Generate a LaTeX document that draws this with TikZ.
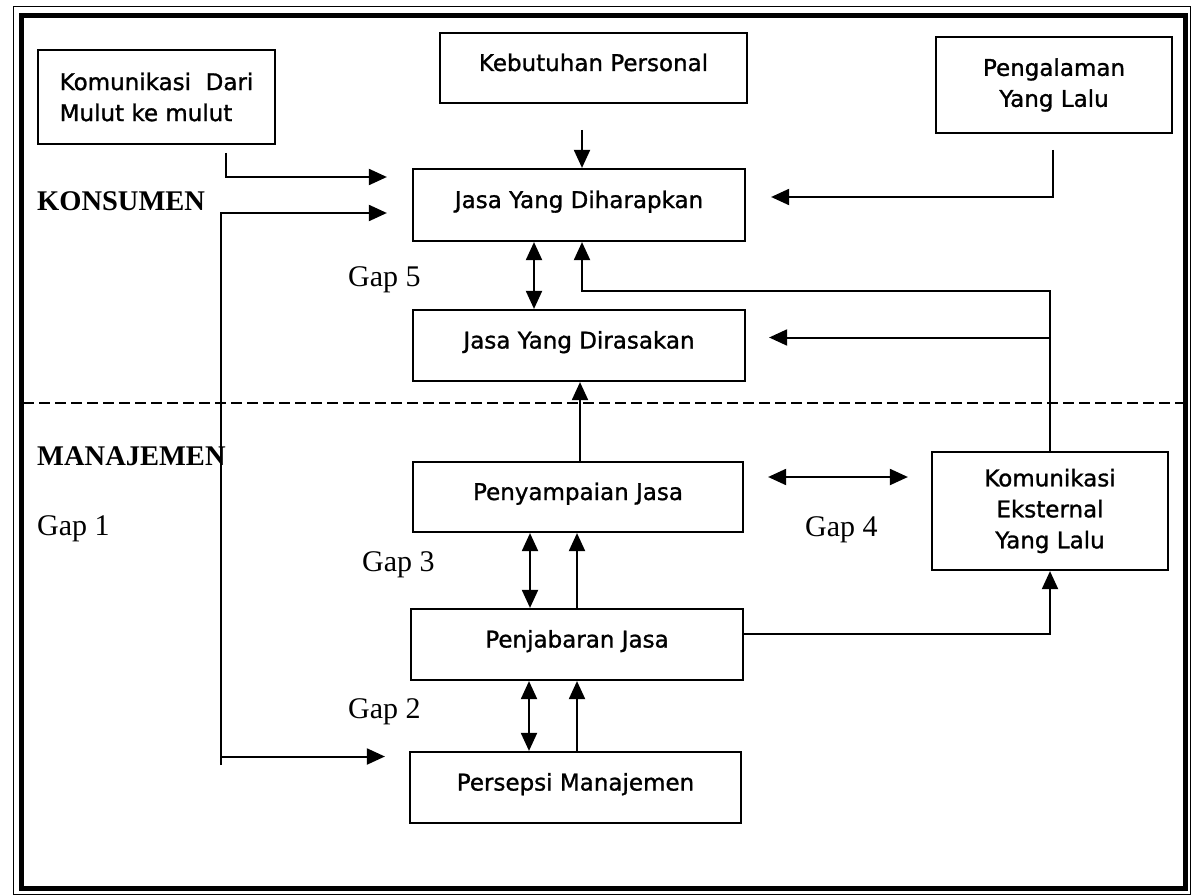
\documentclass[tikz,border=0pt]{standalone}
\usepackage{fontspec}
\setmainfont{Liberation Serif}
\newfontfamily\boxfont[FakeBold=1.2]{DejaVu Sans}
\usetikzlibrary{arrows.meta,calc}
\begin{document}
\begin{tikzpicture}[x=1pt,y=-1pt,
  box/.style={draw, line width=2.2pt, inner sep=0pt, font=\boxfont\fontsize{23}{31}\selectfont, align=center},
  onebox/.style={box, text height=17pt, text depth=11pt},
  arr/.style={line width=2pt, -{Triangle[length=18pt,width=16pt]}},
  dbl/.style={line width=2pt, {Triangle[length=18pt,width=16pt]}-{Triangle[length=18pt,width=16pt]}},
  lbl/.style={inner sep=0pt, anchor=west, font=\fontsize{30}{30}\selectfont},
  side/.style={inner sep=0pt, anchor=west, font=\bfseries\fontsize{28.5}{28.5}\selectfont}]
\useasboundingbox (0,0) rectangle (1193,896);
% frame
\draw[line width=1pt] (13,7) rectangle (1190,894);
\draw[line width=5pt] (21,15.5) rectangle (1185,888);
\draw[line width=2pt, dash pattern=on 11pt off 5pt] (23,403) -- (1183,403);
% boxes
\node[box, align=left, minimum width=237pt, minimum height=94pt] (KDM) at (156.5,97) {Komunikasi~ Dari\\Mulut ke mulut};
\node[onebox, minimum width=307pt, minimum height=70pt] (KP) at (593.5,68) {Kebutuhan Personal};
\node[box, minimum width=236pt, minimum height=96pt] (PYL) at (1054,85) {Pengalaman\\Yang Lalu};
\node[onebox, minimum width=332pt, minimum height=72pt] (JYD) at (579,205) {Jasa Yang Diharapkan};
\node[onebox, minimum width=332pt, minimum height=71pt] (JYDr) at (579,345.5) {Jasa Yang Dirasakan};
\node[onebox, minimum width=330pt, minimum height=70pt] (PJ) at (578,497) {Penyampaian Jasa};
\node[box, minimum width=236pt, minimum height=118pt] (KEYL) at (1050,511) {Komunikasi\\Eksternal\\Yang Lalu};
\node[onebox, minimum width=332pt, minimum height=71pt] (PnJ) at (577,644.5) {Penjabaran Jasa};
\node[onebox, minimum width=331pt, minimum height=71pt] (PM) at (575.5,787.5) {Persepsi Manajemen};
% labels
\node[side] (kons) at (37,201) {KONSUMEN};
\node[side] (mana) at (37,456) {MANAJEMEN};
\node[lbl] (g1) at (37,529) {Gap 1};
\node[lbl] (g5) at (348,280) {Gap 5};
\node[lbl] (g3) at (362,565) {Gap 3};
\node[lbl] (g4) at (805,530) {Gap 4};
\node[lbl] (g2) at (348,712) {Gap 2};
% connectors
\coordinate (kpS) at (582,130);
\draw[arr] (kpS) -- (kpS |- JYD.north);
\coordinate (kdmS) at (226,153);
\draw[arr, shorten >=25pt] (kdmS) |- ([yshift=28pt]JYD.west);
\coordinate (g1B) at (221,765);
\draw[arr, shorten >=25pt] (g1B) |- ([yshift=-8pt]JYD.west);
\draw[arr, shorten >=24pt] ([yshift=31pt]PM.west -| g1B) -- ([yshift=31pt]PM.west);
\coordinate (pylS) at (1053,150);
\draw[arr, shorten >=25pt] (pylS) |- ([yshift=8pt]JYD.east);
\draw[dbl] ([xshift=-45pt]JYD.south) -- ([xshift=-45pt]JYD.south |- JYDr.north);
\draw[arr] (KEYL.north) |- ([xshift=3pt,yshift=-49pt]JYD.south) -- ([xshift=3pt]JYD.south);
\draw[arr, shorten >=23pt] ([yshift=8pt]JYDr.east -| KEYL.north) -- ([yshift=8pt]JYDr.east);
\draw[arr] ([xshift=2pt]PJ.north) -- ([xshift=2pt]PJ.north |- JYDr.south);
\draw[dbl, shorten <=24pt, shorten >=23pt] ([yshift=20pt]PJ.east) -- ([yshift=20pt]PJ.east -| KEYL.west);
\draw[dbl] ([xshift=-48pt]PJ.south) -- ([xshift=-48pt]PJ.south |- PnJ.north);
\draw[arr] (PnJ.north) -- (PnJ.north |- PJ.south);
\draw[arr] ([yshift=11pt]PnJ.east) -| (KEYL.south);
\draw[dbl] ([xshift=-48pt]PnJ.south) -- ([xshift=-48pt]PnJ.south |- PM.north);
\draw[arr] (PM.north -| PnJ.south) -- (PnJ.south);
\end{tikzpicture}
\end{document}
